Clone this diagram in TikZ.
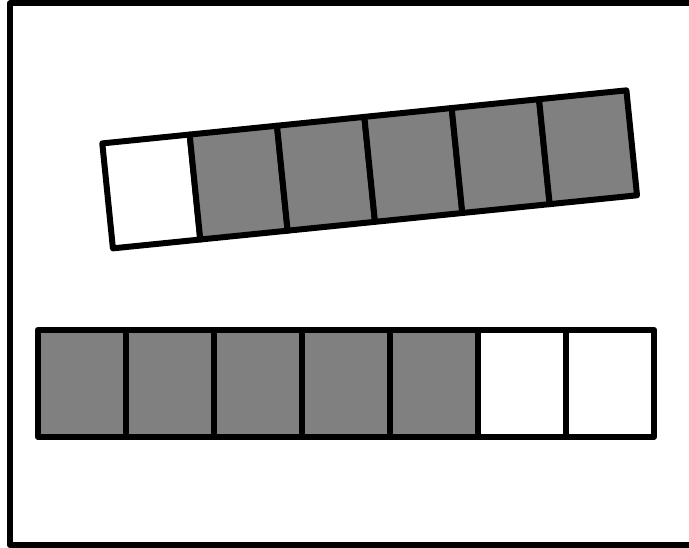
\documentclass[tikz,border=0pt]{standalone}
\usepackage{tikz}
\definecolor{cellgray}{HTML}{808080}
\tikzset{
  cellline/.style={draw=black, line width=6pt, line join=round},
  graycell/.style={cellline, fill=cellgray},
  whitecell/.style={cellline, fill=white}
}
\begin{document}
\begin{tikzpicture}[x=1pt,y=-1pt]
\useasboundingbox (0,0) rectangle (689,548);
\clip (0,0) rectangle (689,548);
\fill[white] (0,0) rectangle (689,548);
% outer frame
\draw[cellline] (10,3.5) rectangle (700,545);
% top rotated strip
\begin{scope}[shift={(102.3,143.4)}, rotate=5.78]
  \draw[whitecell] (0,0) rectangle (87.8,105.5);
  \foreach \i in {1,...,5} {
    \draw[graycell] ({87.8*\i},0) rectangle ({87.8*(\i+1)},105.5);
  }
\end{scope}
% bottom strip
\foreach \i in {0,...,4} {
  \draw[graycell] ({38+88*\i},329.7) rectangle ({38+88*(\i+1)},437);
}
\foreach \i in {5,6} {
  \draw[whitecell] ({38+88*\i},329.7) rectangle ({38+88*(\i+1)},437);
}
\end{tikzpicture}
\end{document}
